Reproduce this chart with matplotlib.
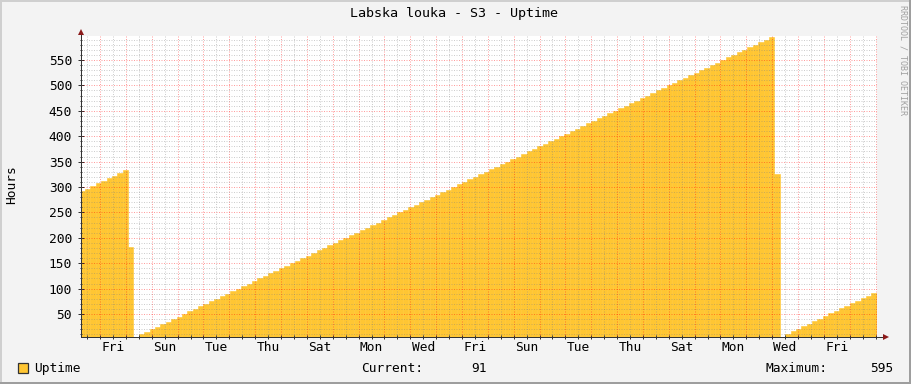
import numpy as np
import matplotlib
matplotlib.use('Agg')
import matplotlib.pyplot as plt
from matplotlib.patches import Rectangle
from matplotlib.lines import Line2D
from matplotlib.ticker import MultipleLocator

# uptime readings (hours), one per 5 hour bin, first bin starts 19 h before the first Friday 00:00
bin_start_hour = -19
bin_hours = 5
uptime = [
    292, 297, 302, 307, 312, 317, 322, 327, 333,
    182, np.nan,
    10, 15, 20, 25, 30, 35, 40, 45, 50, 55, 60, 65,
    70, 75, 80, 85, 90, 95, 100, 105, 110, 115, 120, 125,
    130, 135, 140, 145, 150, 155, 160, 165, 170, 175, 180, 185,
    190, 195, 200, 205, 210, 215, 220, 225, 230, 235, 240, 245,
    250, 255, 260, 265, 270, 275, 280, 285, 290, 295, 300, 305,
    310, 315, 320, 325, 330, 335, 340, 345, 350, 355, 360, 365,
    370, 375, 380, 385, 390, 395, 400, 405, 410, 415, 420, 425,
    430, 435, 440, 445, 450, 455, 460, 465, 470, 475, 480, 485,
    490, 495, 500, 505, 510, 515, 520, 525, 530, 535, 540, 545,
    550, 555, 560, 565, 570, 575, 580, 585, 590, 595,
    325, np.nan,
    11, 16, 21, 26, 31, 36, 41, 46, 51, 56, 61, 66, 71, 76, 81, 86, 91,
]

day_labels = ['Fri', 'Sun', 'Tue', 'Thu', 'Sat', 'Mon', 'Wed', 'Fri',
              'Sun', 'Tue', 'Thu', 'Sat', 'Mon', 'Wed', 'Fri']
y_ticks = [50, 100, 150, 200, 250, 300, 350, 400, 450, 500, 550]
current_value = 91
maximum_value = 595

title = 'Labska louka - S3 - Uptime'
fill = '#ffc633'
font = 'DejaVu Sans Mono'
fs = 9.3

W, H = 911, 384
fig = plt.figure(figsize=(W / 100, H / 100), dpi=100, facecolor='#f3f3f3')
ax = fig.add_axes([81 / W, (H - 336.5) / H, 796 / W, 300.5 / H])
ax.set_facecolor('white')

u = np.array(uptime, dtype=float)
edges = bin_start_hour + bin_hours * np.arange(len(u))
ok = ~np.isnan(u)
ax.bar(edges[ok], u[ok], width=bin_hours, align='edge', color=fill,
       edgecolor=fill, linewidth=0.4, zorder=1)

ax.set_xlim(-17.7, 721.3)
ax.set_ylim(5.7, 597.2)

# grid: red every day / every 50, grey every 12 h / every 10
dots = (0, (1, 1.5))
red = dict(color='#ff0000', alpha=0.38, lw=0.72, ls=dots, zorder=3, snap=True)
grey = dict(color='#7f7f7f', alpha=0.38, lw=0.72, ls=dots, zorder=3, snap=True)
for h in range(-12, 722, 12):
    ax.axvline(h, **(red if h % 24 == 0 else grey))
for v in range(10, 597, 10):
    ax.axhline(v, **(red if v % 50 == 0 else grey))

ax.set_yticks(y_ticks)
ax.set_yticklabels([str(t) for t in y_ticks], fontfamily=font, fontsize=fs)
ax.yaxis.set_minor_locator(MultipleLocator(10))
ax.tick_params(axis='y', which='major', direction='inout', length=4, width=0.72,
               color='#333333', pad=4.5)
ax.tick_params(axis='y', which='minor', direction='inout', length=2, width=0.72,
               color='#333333')

ax.xaxis.remove_overlapping_locs = False
ax.set_xticks([12 + 48 * k for k in range(len(day_labels))])
ax.set_xticklabels(day_labels, fontfamily=font, fontsize=fs)
ax.xaxis.set_minor_locator(MultipleLocator(12))
ax.tick_params(axis='x', which='major', length=0, pad=3)
ax.tick_params(axis='x', which='minor', direction='inout', length=3, width=0.72,
               color='#333333')

for s in ['top', 'right']:
    ax.spines[s].set_visible(False)
for s in ['left', 'bottom']:
    ax.spines[s].set_color('#333333')
    ax.spines[s].set_linewidth(0.72)
    ax.spines[s].set_zorder(4)

# axis arrows
arrow_col = '#8b1a1a'
ax.plot([1, (883 - 81) / 796], [0, 0], transform=ax.transAxes, clip_on=False,
        color='#333333', lw=0.72)
ax.plot([(886 - 81) / 796], [0], marker='>', ms=4.5, mew=0, color=arrow_col,
        transform=ax.transAxes, clip_on=False)
ax.plot([0, 0], [1, (336.5 - 34) / 300.5], transform=ax.transAxes, clip_on=False,
        color='#333333', lw=0.72)
ax.plot([0], [(336.5 - 32) / 300.5], marker='^', ms=4.5, mew=0, color=arrow_col,
        transform=ax.transAxes, clip_on=False)

# texts
fig.text(454 / W, (H - 14) / H, title, ha='center', va='center',
         fontfamily=font, fontsize=9.6)
fig.text(12 / W, (H - 185) / H, 'Hours', rotation=90, ha='center', va='center',
         fontfamily=font, fontsize=fs)
fig.text(903 / W, (H - 5) / H, 'RRDTOOL / TOBI OETIKER', rotation=270,
         ha='center', va='top', fontfamily=font, fontsize=6, color='#a0a0a0')

ly = (H - 368.5) / H
fig.add_artist(Rectangle((17.5 / W, (H - 373) / H), 10 / W, 10 / H,
                         transform=fig.transFigure, facecolor=fill,
                         edgecolor='#333333', linewidth=0.9))
fig.text(34 / W, ly, 'Uptime', ha='left', va='center', fontfamily=font, fontsize=fs)
fig.text(361 / W, ly, 'Current:', ha='left', va='center', fontfamily=font, fontsize=fs)
fig.text(487 / W, ly, str(current_value), ha='right', va='center',
         fontfamily=font, fontsize=fs)
fig.text(766 / W, ly, 'Maximum:', ha='left', va='center', fontfamily=font, fontsize=fs)
fig.text(893 / W, ly, str(maximum_value), ha='right', va='center',
         fontfamily=font, fontsize=fs)

# frame shading
fig.add_artist(Line2D([0, 1], [1 - 1 / H] * 2, transform=fig.transFigure,
                      color='#cfcfcf', lw=1.44))
fig.add_artist(Line2D([1 / W] * 2, [0, 1], transform=fig.transFigure,
                      color='#cfcfcf', lw=1.44))
fig.add_artist(Line2D([0, 1], [1 / H] * 2, transform=fig.transFigure,
                      color='#9e9e9e', lw=1.44))
fig.add_artist(Line2D([1 - 1 / W] * 2, [0, 1], transform=fig.transFigure,
                      color='#9e9e9e', lw=1.44))

fig.savefig('out.png', dpi=100, facecolor=fig.get_facecolor())
